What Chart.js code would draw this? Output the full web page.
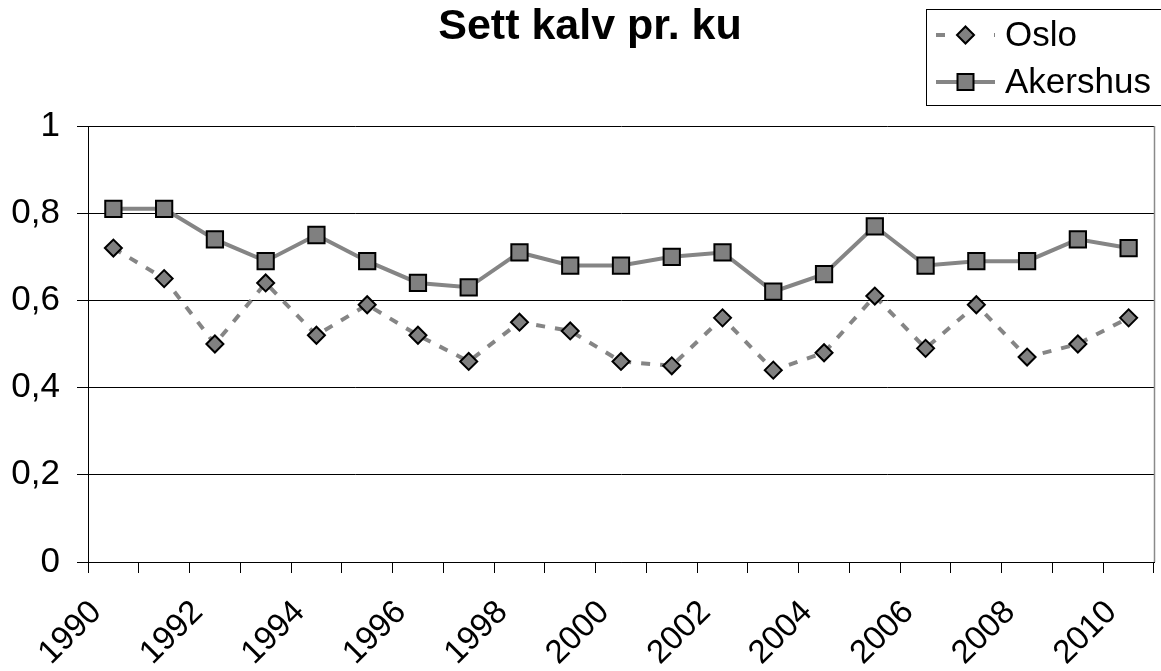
<!DOCTYPE html>
<html><head><meta charset="utf-8">
<script src="https://cdn.jsdelivr.net/npm/chart.js@4.4.1/dist/chart.umd.min.js"></script>
<style>html,body{margin:0;padding:0;background:#fff}#wrap{position:relative;width:1161px;height:671px}</style>
</head><body><div id="wrap"><canvas id="c"></canvas></div>
<script>
const titleText = 'Sett kalv pr. ku';
const years = ['1990','1991','1992','1993','1994','1995','1996','1997','1998','1999','2000','2001','2002','2003','2004','2005','2006','2007','2008','2009','2010'];
const xTickLabels = ['1990','','1992','','1994','','1996','','1998','','2000','','2002','','2004','','2006','','2008','','2010'];
const yTickLabels = ['0','0,2','0,4','0,6','0,8','1'];
const osloLabel = 'Oslo';
const osloValues = [0.72,0.65,0.50,0.64,0.52,0.59,0.52,0.46,0.55,0.53,0.46,0.45,0.56,0.44,0.48,0.61,0.49,0.59,0.47,0.50,0.56];
const akershusLabel = 'Akershus';
const akershusValues = [0.81,0.81,0.74,0.69,0.75,0.69,0.64,0.63,0.71,0.68,0.68,0.70,0.71,0.62,0.66,0.77,0.68,0.69,0.69,0.74,0.72];

const FONT = "'Liberation Sans', Arial, sans-serif";
const GRAY = '#858585';
const MARK = '#808080';

const frameTitleLegend = {
  id: 'frameTitleLegend',
  afterDraw(chart) {
    const ctx = chart.ctx, a = chart.chartArea;
    ctx.save();
    // right border of plot area
    ctx.strokeStyle = '#8a8a8a'; ctx.lineWidth = 1.5;
    ctx.beginPath(); ctx.moveTo(a.right + 0.5, a.top); ctx.lineTo(a.right + 0.5, a.bottom); ctx.stroke();
    // title
    ctx.fillStyle = '#000'; ctx.font = 'bold 43px ' + FONT;
    ctx.textAlign = 'center'; ctx.textBaseline = 'alphabetic';
    ctx.fillText(titleText, 590, 39);
    // legend box
    const bx = 926.5, by = 9.5, bw = 260, bh = 96;
    ctx.fillStyle = '#fff'; ctx.fillRect(bx, by, bw, bh);
    ctx.strokeStyle = '#000'; ctx.lineWidth = 1; ctx.strokeRect(bx, by, bw, bh);
    const rows = [
      {label: osloLabel, y: 35, dash: [9, 20], style: 'diamond'},
      {label: akershusLabel, y: 82, dash: [], style: 'square'}
    ];
    rows.forEach(r => {
      ctx.strokeStyle = GRAY; ctx.lineWidth = 4; ctx.setLineDash(r.dash);
      ctx.beginPath(); ctx.moveTo(936, r.y); ctx.lineTo(995, r.y); ctx.stroke();
      ctx.setLineDash([]);
      ctx.fillStyle = MARK; ctx.strokeStyle = '#000'; ctx.lineWidth = 2;
      const cx = 965.5;
      ctx.beginPath();
      if (r.style === 'diamond') {
        ctx.moveTo(cx, r.y - 8.5); ctx.lineTo(cx + 8.5, r.y); ctx.lineTo(cx, r.y + 8.5); ctx.lineTo(cx - 8.5, r.y); ctx.closePath();
      } else {
        ctx.rect(cx - 8, r.y - 8, 16, 16);
      }
      ctx.fill(); ctx.stroke();
      ctx.fillStyle = '#000'; ctx.font = '35px ' + FONT; ctx.textBaseline = 'middle'; ctx.textAlign = 'left';
      ctx.fillText(r.label, 1005, r.y + 1);
    });
    ctx.restore();
  }
};

new Chart(document.getElementById('c'), {
  type: 'line',
  data: {
    labels: years,
    datasets: [
      {
        label: osloLabel, data: osloValues,
        borderColor: GRAY, borderWidth: 4, borderDash: [9, 10], tension: 0,
        pointStyle: 'rectRot', pointRadius: 8.5, pointHoverRadius: 8.5,
        pointBackgroundColor: MARK, pointBorderColor: '#000', pointBorderWidth: 2
      },
      {
        label: akershusLabel, data: akershusValues,
        borderColor: GRAY, borderWidth: 4, tension: 0,
        pointStyle: 'rect', pointRadius: 11.5, pointHoverRadius: 11.5,
        pointBackgroundColor: MARK, pointBorderColor: '#000', pointBorderWidth: 2
      }
    ]
  },
  options: {
    responsive: true, maintainAspectRatio: false, animation: false,
    layout: {autoPadding: false, padding: {left: 0, right: 7, top: 126, bottom: 0}},
    plugins: {
      legend: {display: false},
      tooltip: {enabled: false},
      title: {display: false}
    },
    scales: {
      x: {
        offset: true,
        grid: {offset: true, drawOnChartArea: false, color: '#000', tickLength: 11, tickColor: '#000'},
        border: {color: '#000', width: 1},
        ticks: {
          autoSkip: false, maxRotation: 45, minRotation: 45, labelOffset: -17, padding: 20,
          color: '#000', font: {family: FONT, size: 33},
          callback: (v, i) => xTickLabels[i]
        },
        afterFit: s => { s.height = 109; s.paddingLeft = 0; s.paddingRight = 0; }
      },
      y: {
        min: 0, max: 1,
        ticks: {stepSize: 0.2, color: '#000', font: {family: FONT, size: 35}, padding: 17,
          callback: (v, i) => yTickLabels[i]},
        grid: {color: '#000', tickLength: 11, tickColor: '#000'},
        border: {color: '#000', width: 1},
        afterFit: s => { s.width = 88; }
      }
    }
  },
  plugins: [frameTitleLegend]
});
</script></body></html>
